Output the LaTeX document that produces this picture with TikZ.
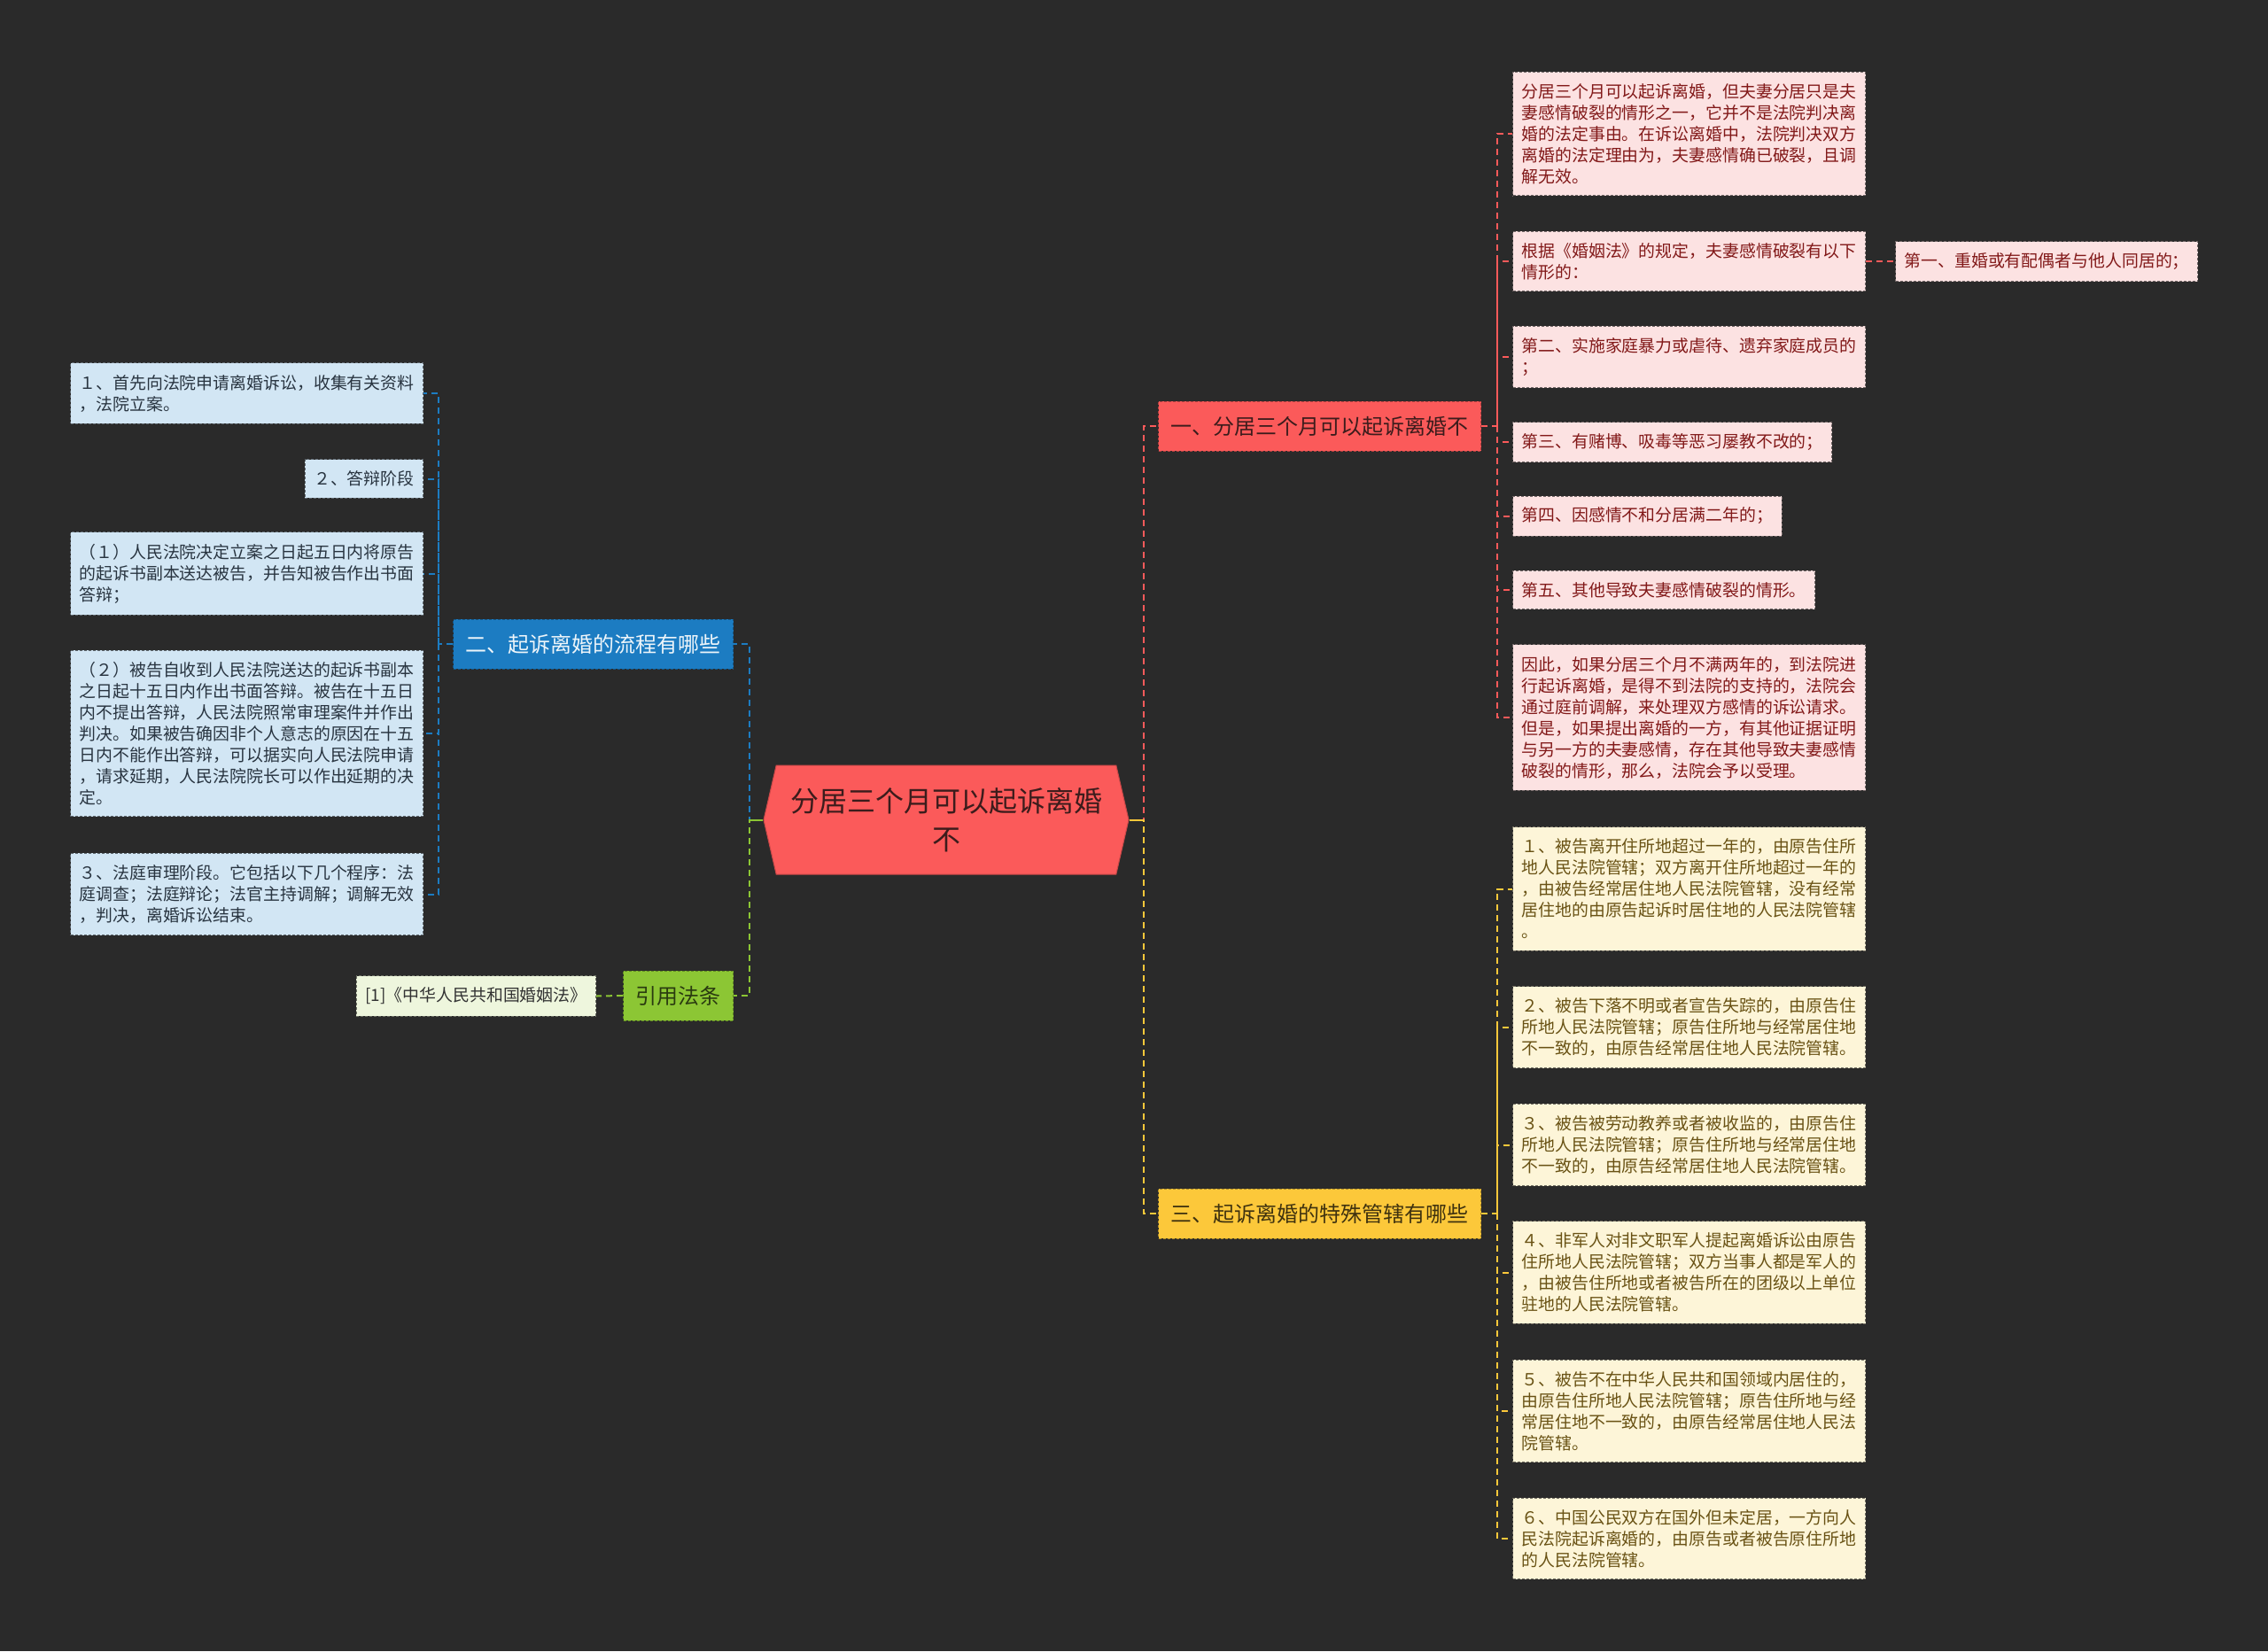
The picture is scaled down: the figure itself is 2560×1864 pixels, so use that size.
\documentclass[tikz,border=0pt]{standalone}
\usepackage{fontspec}
\setmainfont{Noto Sans CJK SC}
\usepackage{tikz}
\usetikzlibrary{shapes.symbols}
\definecolor{bgDark}    {RGB}{ 42,  42,  42}
\definecolor{rootRed}   {RGB}{251,  90,  90}
\definecolor{blueBr}    {RGB}{ 28, 124, 194}
\definecolor{yellowBr}  {RGB}{252, 200,  58}
\definecolor{greenBr}   {RGB}{140, 198,  52}
\definecolor{pinkLeaf}  {RGB}{252, 226, 226}
\definecolor{creamLeaf} {RGB}{253, 245, 216}
\definecolor{blueLeaf}  {RGB}{210, 230, 244}
\definecolor{greenLeaf} {RGB}{238, 246, 221}
\definecolor{redInk}    {RGB}{130,  25,  25}
\definecolor{oliveInk}  {RGB}{105,  82,  20}
\definecolor{slateInk}  {RGB}{ 40,  52,  64}
\definecolor{darkInk}   {RGB}{ 60,  28,  28}

\begin{document}
\begin{tikzpicture}[x=1pt,y=-1pt,
          root/.style={signal,signal to=east and west,signal pointer angle=154,
                       fill=rootRed,draw=rootRed!80!black,line width=1pt,
                       minimum width=412pt,minimum height=123pt,inner sep=0pt,
                       align=center,text=darkInk,font=\fontsize{32pt}{43pt}\selectfont},
          branch/.style={rectangle,minimum height=56pt,inner xsep=14pt,
                         font=\fontsize{24pt}{28pt}\selectfont,
                         line width=1pt,dash pattern=on 3pt off 2pt},
          leafbox/.style={rectangle,inner xsep=10pt,inner ysep=13pt,
                          font=\fontsize{18.9pt}{24pt}\selectfont,
                          line width=1pt,dash pattern=on 3pt off 2pt},
          pinkno/.style={leafbox,fill=pinkLeaf,draw=pinkLeaf!45!black,text=redInk},
          creamno/.style={leafbox,fill=creamLeaf,draw=creamLeaf!45!black,text=oliveInk},
          blueno/.style={leafbox,fill=blueLeaf,draw=blueLeaf!45!black,text=slateInk},
          greenno/.style={leafbox,fill=greenLeaf,draw=greenLeaf!45!black,text=black!80},
          wide/.style={text width=378pt,align=left},
          link/.style={line width=2pt,dash pattern=on 7pt off 5pt},
        ]
        \fill[bgDark](0,0)rectangle(2560,1864);
        \useasboundingbox(0,0)rectangle(2560,1864);

        % ROOT
        \node[root](root) at (1068,925.5){分居三个月可以起诉离婚\\不};
        \coordinate(lj) at (846,925.5);
        \coordinate(rj) at (1291,925.5);

        % BRANCHES
        \node[branch,fill=rootRed,draw=rootRed!70!black,text=darkInk,anchor=west](b1) at (1307,481){一、分居三个月可以起诉离婚不};
        \node[branch,fill=blueBr,draw=blueBr!70!black,text=white!92!blueBr,anchor=east](b2) at (828,727){二、起诉离婚的流程有哪些};
        \node[branch,fill=yellowBr,draw=yellowBr!70!black,text=black!75!yellowBr,anchor=west](b3) at (1307,1370){三、起诉离婚的特殊管辖有哪些};
        \node[branch,fill=greenBr,draw=greenBr!70!black,text=black!70!greenBr,anchor=east](b4) at (828,1124){引用法条};

        % SECTION ONE
        \node[pinkno,wide,anchor=west](p1) at (1707,151){分居三个月可以起诉离婚，但夫妻分居只是夫\\妻感情破裂的情形之一，它并不是法院判决离\\婚的法定事由。在诉讼离婚中，法院判决双方\\离婚的法定理由为，夫妻感情确已破裂，且调\\解无效。};
        \node[pinkno,wide,anchor=west](p2) at (1707,295){根据《婚姻法》的规定，夫妻感情破裂有以下\\情形的：};
        \node[pinkno,anchor=west](q1) at (2139,295){第一、重婚或有配偶者与他人同居的；};
        \node[pinkno,wide,anchor=west](p3) at (1707,403){第二、实施家庭暴力或虐待、遗弃家庭成员的\\；};
        \node[pinkno,anchor=west](p4) at (1707,499){第三、有赌博、吸毒等恶习屡教不改的；};
        \node[pinkno,anchor=west](p5) at (1707,582.5){第四、因感情不和分居满二年的；};
        \node[pinkno,anchor=west](p6) at (1707,666){第五、其他导致夫妻感情破裂的情形。};
        \node[pinkno,wide,anchor=west](p7) at (1707,810){因此，如果分居三个月不满两年的，到法院进\\行起诉离婚，是得不到法院的支持的，法院会\\通过庭前调解，来处理双方感情的诉讼请求。\\但是，如果提出离婚的一方，有其他证据证明\\与另一方的夫妻感情，存在其他导致夫妻感情\\破裂的情形，那么，法院会予以受理。};
        \coordinate(j1) at (1690,481);

        % SECTION THREE
        \node[creamno,wide,anchor=west](s1) at (1707,1003.5){１、被告离开住所地超过一年的，由原告住所\\地人民法院管辖；双方离开住所地超过一年的\\，由被告经常居住地人民法院管辖，没有经常\\居住地的由原告起诉时居住地的人民法院管辖\\。};
        \node[creamno,wide,anchor=west](s2) at (1707,1159.5){２、被告下落不明或者宣告失踪的，由原告住\\所地人民法院管辖；原告住所地与经常居住地\\不一致的，由原告经常居住地人民法院管辖。};
        \node[creamno,wide,anchor=west](s3) at (1707,1292.5){３、被告被劳动教养或者被收监的，由原告住\\所地人民法院管辖；原告住所地与经常居住地\\不一致的，由原告经常居住地人民法院管辖。};
        \node[creamno,wide,anchor=west](s4) at (1707,1436.5){４、非军人对非文职军人提起离婚诉讼由原告\\住所地人民法院管辖；双方当事人都是军人的\\，由被告住所地或者被告所在的团级以上单位\\驻地的人民法院管辖。};
        \node[creamno,wide,anchor=west](s5) at (1707,1593){５、被告不在中华人民共和国领域内居住的，\\由原告住所地人民法院管辖；原告住所地与经\\常居住地不一致的，由原告经常居住地人民法\\院管辖。};
        \node[creamno,wide,anchor=west](s6) at (1707,1737){６、中国公民双方在国外但未定居，一方向人\\民法院起诉离婚的，由原告或者被告原住所地\\的人民法院管辖。};
        \coordinate(j3) at (1690,1370);

        % SECTION TWO
        \node[blueno,wide,anchor=east](f1) at (478,444){１、首先向法院申请离婚诉讼，收集有关资料\\，法院立案。};
        \node[blueno,anchor=east](f2) at (478,540.5){２、答辩阶段};
        \node[blueno,wide,anchor=east](f3) at (478,647.5){（１）人民法院决定立案之日起五日内将原告\\的起诉书副本送达被告，并告知被告作出书面\\答辩；};
        \node[blueno,wide,anchor=east](f4) at (478,828){（２）被告自收到人民法院送达的起诉书副本\\之日起十五日内作出书面答辩。被告在十五日\\内不提出答辩，人民法院照常审理案件并作出\\判决。如果被告确因非个人意志的原因在十五\\日内不能作出答辩，可以据实向人民法院申请\\，请求延期，人民法院院长可以作出延期的决\\定。};
        \node[blueno,wide,anchor=east](f5) at (478,1009.5){３、法庭审理阶段。它包括以下几个程序：法\\庭调查；法庭辩论；法官主持调解；调解无效\\，判决，离婚诉讼结束。};
        \coordinate(j2) at (495,727);

        % CITATION
        \node[greenno,anchor=east](cite) at (673,1124.5){[1]《中华人民共和国婚姻法》};

        % links
        \draw[link,rootRed](root.east)--(rj)|-(b1.west);
        \draw[link,yellowBr](root.east)--(rj)|-(b3.west);
        \draw[link,blueBr](root.west)--(lj)|-(b2.east);
        \draw[link,greenBr](root.west)--(lj)|-(b4.east);
        \draw[yellowBr,line width=2pt](root.east)--(rj);
        \draw[greenBr,line width=2pt](root.west)--(lj);
        \draw[link,rootRed](b1.east)--(j1)|-(p1.west)(j1)|-(p2.west)(j1)|-(p3.west)(j1)|-(p4.west)
             (j1)|-(p5.west)(j1)|-(p6.west)(j1)|-(p7.west);
        \draw[link,rootRed](p2.east)--(q1.west);
        \draw[link,yellowBr](b3.east)--(j3)|-(s1.west)(j3)|-(s2.west)(j3)|-(s3.west)(j3)|-(s4.west)
             (j3)|-(s5.west)(j3)|-(s6.west);
        \draw[link,blueBr](b2.west)--(j2)|-(f1.east)(j2)|-(f2.east)(j2)|-(f3.east)(j2)|-(f4.east)
             (j2)|-(f5.east);
        \draw[link,greenBr](b4.west)--(cite.east);
      \end{tikzpicture}
\end{document}
